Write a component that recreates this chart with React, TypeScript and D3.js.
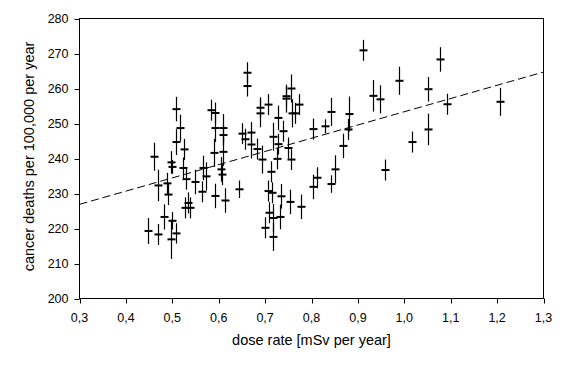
import React from 'react'
import * as d3 from 'd3'

// dose rate [mSv/yr], deaths per 100,000, half-length of error bar
const doseRate = [
  0.448, 0.46, 0.47, 0.47, 0.483, 0.489, 0.49, 0.497, 0.5, 0.498, 0.5, 0.509, 0.509, 0.509, 0.517,
  0.526, 0.524, 0.529, 0.527, 0.533, 0.538, 0.549, 0.566, 0.573, 0.564, 0.591, 0.614, 0.604, 0.607,
  0.583, 0.591, 0.593, 0.61, 0.61, 0.59, 0.61,
  0.662, 0.662, 0.69, 0.69, 0.707, 0.745, 0.745, 0.756, 0.757, 0.764, 0.774, 0.728,
  0.65, 0.657, 0.669, 0.669, 0.682, 0.693, 0.718, 0.728, 0.739, 0.75, 0.726, 0.755, 0.803, 0.829,
  0.644, 0.712, 0.707, 0.714, 0.734, 0.754, 0.778, 0.709, 0.716, 0.732, 0.7, 0.718, 0.804, 0.811,
  0.912, 0.989, 0.933, 0.948, 0.843, 0.88, 0.879, 0.867, 1.017, 0.851, 0.843, 0.959,
  1.077, 1.05, 1.091, 1.05, 1.206,
]
const deaths = [
  219.3, 240.5, 218.3, 232.3, 223.3, 232.9, 229.7, 238.9, 237.6, 216.9, 222.2, 218.6, 254.1, 244.7, 248.7,
  242.6, 237.3, 234.1, 225.9, 227.3, 225.9, 233.3, 237.3, 234.9, 230.5, 229.3, 228.0, 236.9, 235.4,
  253.8, 253.0, 248.7, 248.7, 246.7, 241.6, 241.9,
  264.5, 260.7, 254.5, 252.9, 255.4, 257.8, 257.1, 260.0, 252.9, 252.9, 255.4, 251.6,
  247.1, 245.5, 247.4, 244.0, 242.7, 239.7, 246.2, 244.1, 247.8, 243.0, 239.9, 239.7, 248.4, 249.2,
  231.2, 236.2, 230.7, 230.2, 229.2, 227.6, 226.2, 224.5, 223.0, 223.3, 220.2, 217.6, 231.9, 234.5,
  270.9, 262.2, 257.9, 256.9, 253.3, 252.7, 248.3, 243.6, 244.7, 236.9, 232.7, 236.7,
  268.3, 259.8, 255.5, 248.3, 256.2,
]
const errs = [
  3.7, 4, 3, 4.5, 3.6, 3, 3, 3.2, 2, 5.6, 2.5, 2.9, 3.5, 3.7, 3.8,
  3, 3, 3, 3, 3, 3, 3.5, 3.5, 4, 3, 3.5, 3.5, 3.5, 3,
  3, 3, 4, 4, 3, 4, 4,
  3, 3, 3, 4, 3, 3, 4, 4, 4, 3, 3, 3.5,
  3, 3, 3, 4, 3, 4, 4, 3, 3, 3, 3, 3, 3, 2,
  2.5, 3, 3, 3, 3.5, 3.5, 3.5, 3, 4, 3.5, 3, 4, 3.5, 3,
  3, 4, 4.5, 4, 4, 5, 3, 3.5, 3, 4, 2.5, 3,
  3.5, 3.5, 3, 4.5, 4,
]

const xTicks = [0.3, 0.4, 0.5, 0.6, 0.7, 0.8, 0.9, 1.0, 1.1, 1.2, 1.3]
const yTicks = [200, 210, 220, 230, 240, 250, 260, 270, 280]
const fitLine: [number, number][] = [[0.3, 226.9], [1.3, 264.7]]

const W = 566
const H = 365
const left = 79.5, right = 543.5, top = 18.5, bottom = 298.5
const font = 'Arial, "Liberation Sans", sans-serif'

export default function App() {
  const x = d3.scaleLinear().domain([0.3, 1.3]).range([left, right])
  const y = d3.scaleLinear().domain([200, 280]).range([bottom, top])
  const fmt = (v: number) => v.toFixed(1).replace('.', ',')
  const line = d3.line<[number, number]>().x(d => x(d[0])).y(d => y(d[1]))

  return (
    <svg width={W} height={H} style={{ position: 'absolute', left: 0, top: 0, background: '#fff' }}>
      <rect x={left} y={top} width={right - left} height={bottom - top} fill="none" stroke="#000" strokeWidth={1} />
      {yTicks.map(t => (
        <g key={'y' + t}>
          <line x1={left - 5} x2={left} y1={Math.round(y(t)) + 0.5} y2={Math.round(y(t)) + 0.5} stroke="#000" />
          <text x={left - 11} y={y(t) + 4.5} textAnchor="end" fontFamily={font} fontSize={12.5} fill="#000">{t}</text>
        </g>
      ))}
      {xTicks.map(t => (
        <g key={'x' + t}>
          <line x1={Math.round(x(t)) + 0.5} x2={Math.round(x(t)) + 0.5} y1={bottom} y2={bottom + 5} stroke="#000" />
          <text x={x(t)} y={322} textAnchor="middle" fontFamily={font} fontSize={12.5} fill="#000">{fmt(t)}</text>
        </g>
      ))}
      <path d={line(fitLine) || ''} fill="none" stroke="#000" strokeWidth={1} strokeDasharray="8,4" />
      {doseRate.map((d, i) => {
        const cx = Math.round(x(d)) + 0.5
        const cy = y(deaths[i])
        return (
          <g key={'p' + i}>
            <line x1={cx} x2={cx} y1={y(deaths[i] - errs[i])} y2={y(deaths[i] + errs[i])} stroke="#000" strokeWidth={1.2} />
            <line x1={cx - 4} x2={cx + 4} y1={cy} y2={cy} stroke="#000" strokeWidth={2} />
          </g>
        )
      })}
      <text x={(left + right) / 2} y={345} textAnchor="middle" fontFamily={font} fontSize={14.5} fill="#000">dose rate [mSv per year]</text>
      <text transform={`translate(34,${(top + bottom) / 2 - 2}) rotate(-90)`} textAnchor="middle" fontFamily={font} fontSize={14.5} fill="#000">cancer deaths per 100,000 per year</text>
    </svg>
  )
}
